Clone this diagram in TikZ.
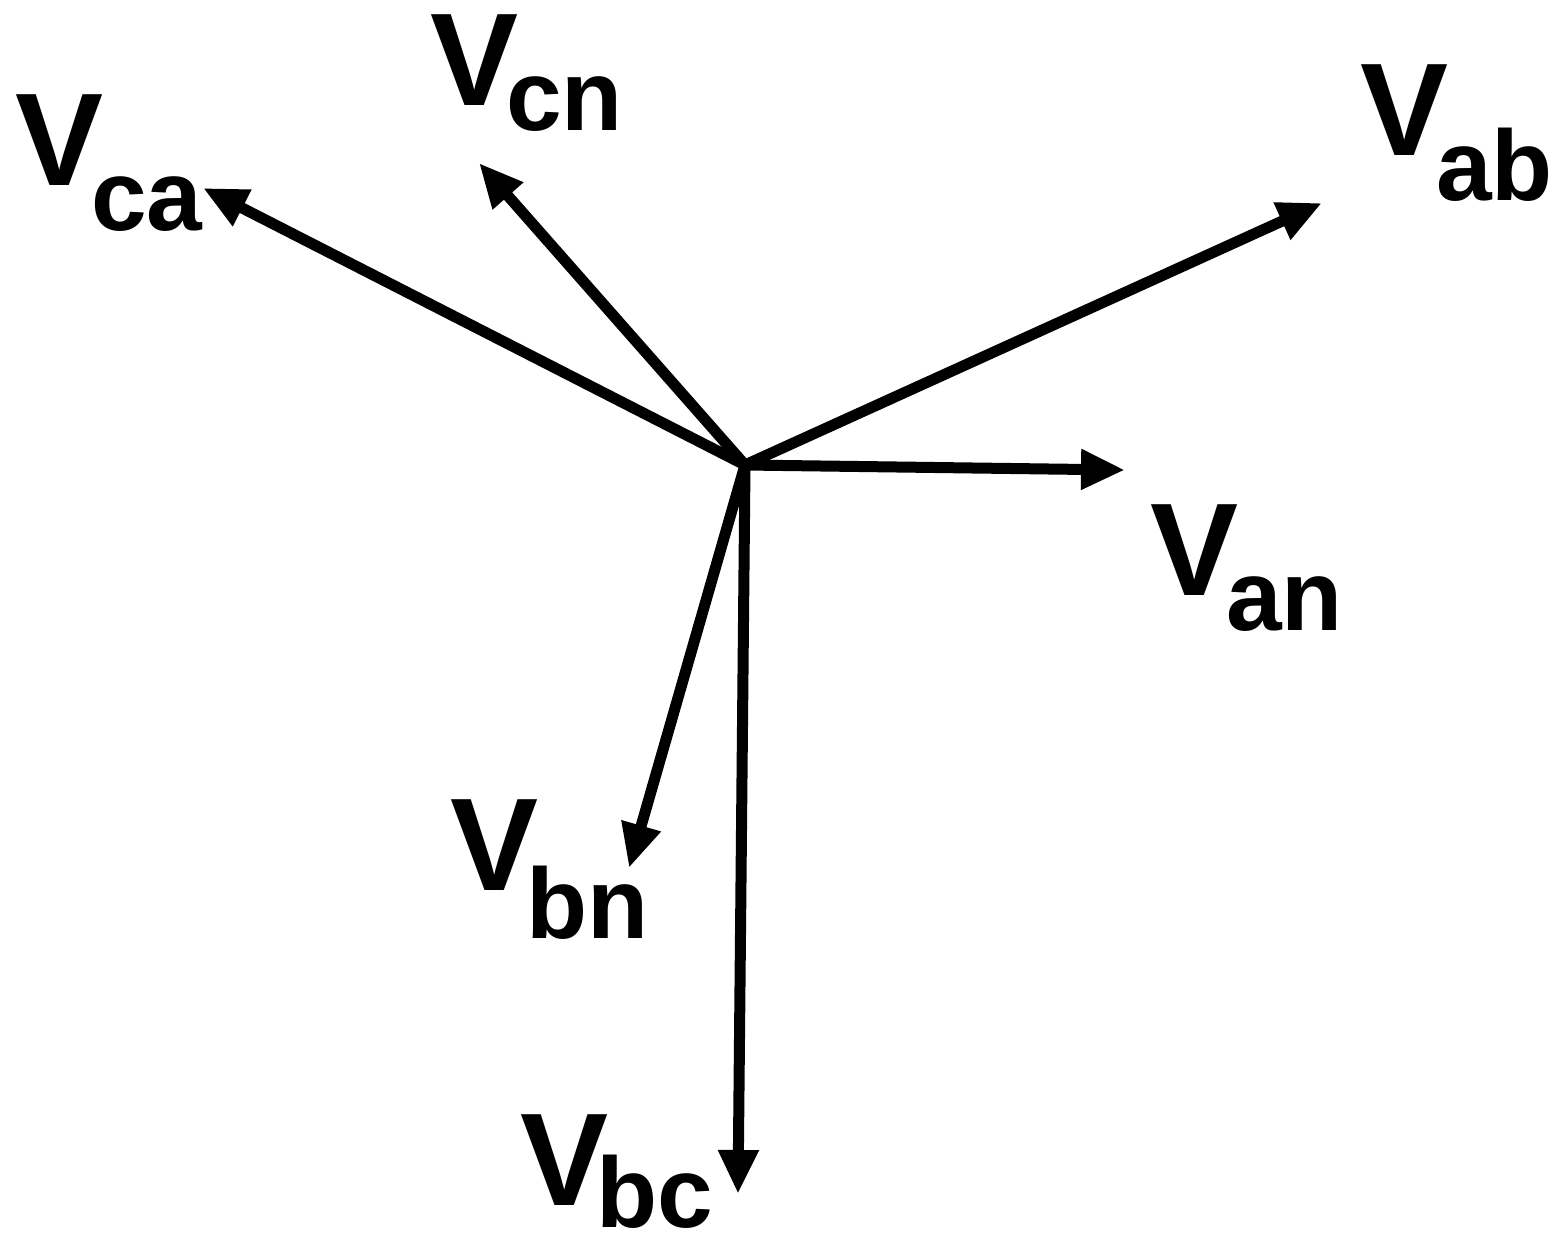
\documentclass[tikz,border=0pt]{standalone}
\usepackage{fontspec}
\setmainfont{Liberation Sans}
\usetikzlibrary{arrows.meta}
\newcommand{\phlabel}[2]{{\fontsize{132}{132}\selectfont\bfseries V}\kern-12pt\raisebox{-#1pt}{\fontsize{100}{100}\selectfont\bfseries #2}}
\begin{document}
\begin{tikzpicture}[x=1pt,y=-1pt,
  phasor/.style={line width=11pt,-{Triangle[length=44pt,width=38pt]}},
  lab/.style={anchor=north west,inner sep=0pt,outer sep=0pt}]
\useasboundingbox (0,0) rectangle (1550,1250);
\fill[white] (0,0) rectangle (1550,1250);
\coordinate (O) at (745,465);
\coordinate (an) at (1125,470);
\coordinate (ab) at (1322,203);
\coordinate (cn) at (479,163);
\coordinate (ca) at (203,188);
\coordinate (bn) at (629,868);
\coordinate (bc) at (738,1194);
\draw[phasor] (O) -- (an);
\draw[phasor] (O) -- (ab);
\draw[phasor] (O) -- (cn);
\draw[phasor] (O) -- (ca);
\draw[phasor] (O) -- (bn);
\draw[phasor] (O) -- (bc);
\node[lab] (lcn) at (430,15) {\phlabel{25}{cn}};
\node[lab] (lca) at (15,95) {\phlabel{45}{ca}};
\node[lab] (lab) at (1360,65) {\phlabel{45}{ab}};
\node[lab] (lan) at (1150,505) {\phlabel{35}{an}};
\node[lab] (lbn) at (450,800) {\phlabel{48}{bn}};
\node[lab] (lbc) at (520,1115) {\phlabel{22}{bc}};
\end{tikzpicture}
\end{document}
